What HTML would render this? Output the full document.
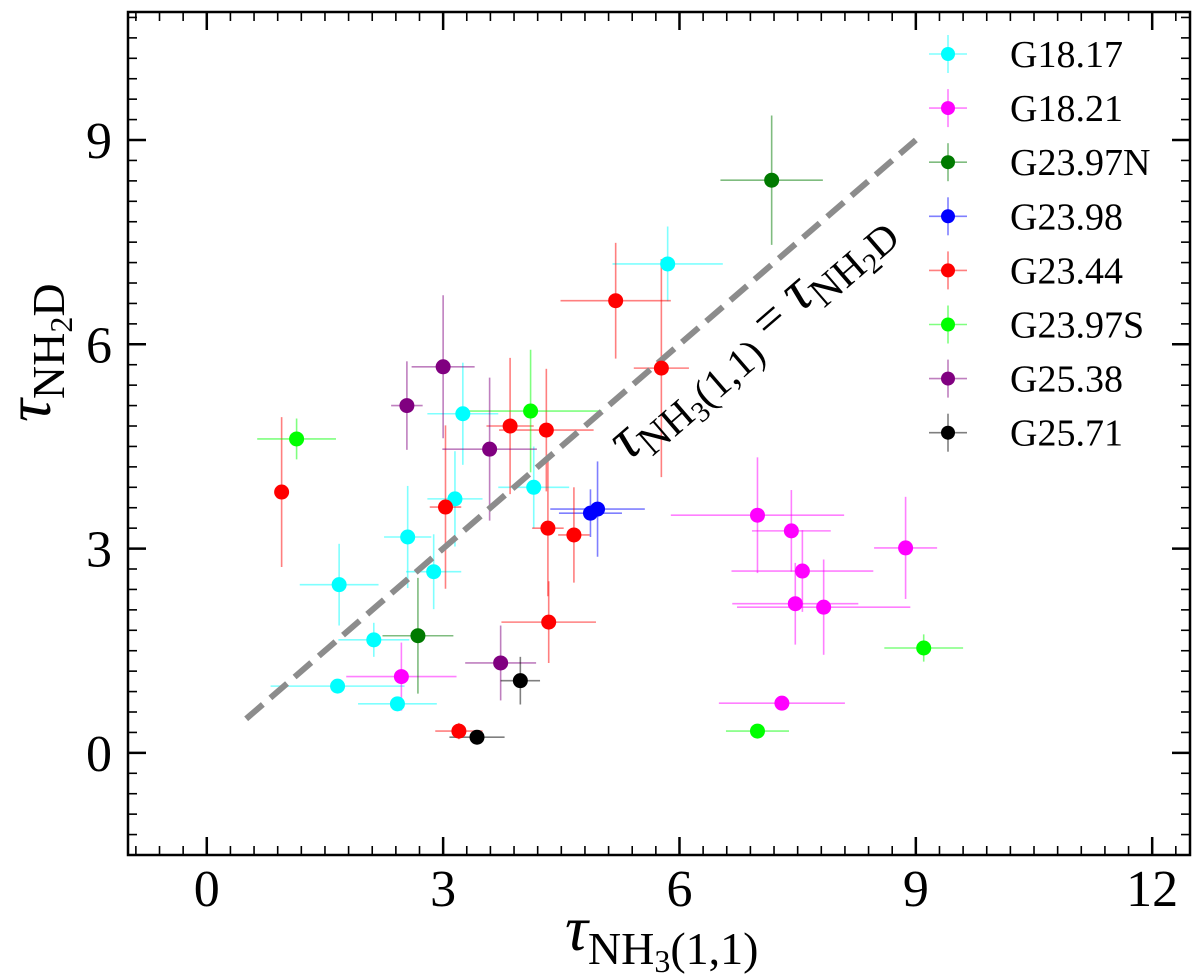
<!DOCTYPE html>
<html><head><meta charset="utf-8"><style>
html,body{margin:0;padding:0;background:#fff;}
svg{display:block;font-family:"Liberation Serif","DejaVu Serif",serif;}
</style></head><body>
<svg id="chart" width="1200" height="979" viewBox="0 0 1200 979" xmlns="http://www.w3.org/2000/svg">
<g id="marks"></g>
<g id="axes"></g>
<g id="legend"></g>
</svg>
<script>
const seriesNames = ["G18.17","G18.21","G23.97N","G23.98","G23.44","G23.97S","G25.38","G25.71"];
const seriesColors = ["#00ffff","#ff00ff","#007a00","#0000ff","#ff0000","#00ff00","#800080","#000000"];
const xG1817 = [1.68,2.12,1.66,2.42,2.55,2.88,3.15,3.25,4.15,5.85];
const yG1817 = [2.47,1.66,0.98,0.72,3.17,2.66,3.73,4.98,3.90,7.18];
const xeG1817 = [0.5,0.45,0.85,0.5,0.3,0.35,0.35,0.45,0.45,0.7];
const yeG1817 = [0.6,0.25,0.1,0.1,0.75,0.55,0.7,0.75,0.6,0.55];
const xG1821 = [2.47,6.99,7.42,7.56,7.47,7.83,8.87,7.30];
const yG1821 = [1.12,3.49,3.26,2.67,2.19,2.14,3.01,0.73];
const xeG1821 = [0.7,1.1,0.5,0.9,0.8,1.1,0.4,0.8];
const yeG1821 = [0.5,0.85,0.6,0.6,0.6,0.7,0.75,0.1];
const xG2397N = [7.17,2.68];
const yG2397N = [8.41,1.72];
const xeG2397N = [0.65,0.45];
const yeG2397N = [0.95,0.85];
const xG2398 = [4.87,4.96];
const yG2398 = [3.52,3.58];
const xeG2398 = [0.4,0.6];
const yeG2398 = [0.35,0.7];
const xG2344 = [0.95,3.03,3.85,4.31,4.33,4.66,4.34,5.19,5.77,3.20];
const yG2344 = [3.83,3.61,4.80,4.74,3.30,3.20,1.92,6.64,5.65,0.32];
const xeG2344 = [0.05,0.2,0.3,0.6,0.2,0.2,0.6,0.7,0.35,0.3];
const yeG2344 = [1.1,1.2,1.0,0.9,1.0,0.7,0.6,0.85,1.6,0.12];
const xG2397S = [1.14,4.11,9.10,6.99];
const yG2397S = [4.61,5.02,1.54,0.32];
const xeG2397S = [0.5,0.9,0.5,0.4];
const yeG2397S = [0.3,0.9,0.2,0.08];
const xG2538 = [3.00,2.54,3.59,3.73];
const yG2538 = [5.67,5.10,4.46,1.32];
const xeG2538 = [0.4,0.2,0.6,0.45];
const yeG2538 = [1.05,0.65,1.05,0.55];
const xG2571 = [3.43,3.98];
const yG2571 = [0.23,1.06];
const xeG2571 = [0.35,0.25];
const yeG2571 = [0.05,0.35];
const xTicks = [0,3,6,9,12];
const yTicks = [0,3,6,9];
const oneToOne = [0.5,9];

const allX=[xG1817,xG1821,xG2397N,xG2398,xG2344,xG2397S,xG2538,xG2571];
const allY=[yG1817,yG1821,yG2397N,yG2398,yG2344,yG2397S,yG2538,yG2571];
const allXe=[xeG1817,xeG1821,xeG2397N,xeG2398,xeG2344,xeG2397S,xeG2538,xeG2571];
const allYe=[yeG1817,yeG1821,yeG2397N,yeG2398,yeG2344,yeG2397S,yeG2538,yeG2571];

const L=128,R=1190,T=12,B=855;
const xmin=-1,xmax=12.48,ymin=-1.5,ymax=10.88;
const sx=v=>L+(v-xmin)/(xmax-xmin)*(R-L);
const sy=v=>B-(v-ymin)/(ymax-ymin)*(B-T);
const NS="http://www.w3.org/2000/svg";
function mk(tag,attrs,parent){const e=document.createElementNS(NS,tag);for(const k in attrs)e.setAttribute(k,attrs[k]);parent.appendChild(e);return e;}
const marks=document.getElementById('marks'),axes=document.getElementById('axes'),legend=document.getElementById('legend');

allX.forEach((xs,si)=>{
  const g=mk('g',{},marks);
  
  
  xs.forEach((x,i)=>{
    const y=allY[si][i],xe=allXe[si][i],ye=allYe[si][i];
    const h=mk('line',{x1:sx(x-xe),x2:sx(x+xe),y1:sy(y),y2:sy(y),stroke:seriesColors[si],'stroke-opacity':0.5,'stroke-width':1.6},g);
    
    
    const v=mk('line',{x1:sx(x),x2:sx(x),y1:sy(y-ye),y2:sy(y+ye),stroke:seriesColors[si],'stroke-opacity':0.5,'stroke-width':1.6},g);
    
    
  });
});
const dl=mk('line',{x1:sx(oneToOne[0]),y1:sy(oneToOne[0]),x2:sx(oneToOne[1]),y2:sy(oneToOne[1]),stroke:'#8c8c8c','stroke-width':6,'stroke-dasharray':'22,10'},marks);


allX.forEach((xs,si)=>{
  xs.forEach((x,i)=>{
    const c=mk('circle',{cx:sx(x),cy:sy(allY[si][i]),r:7.5,fill:seriesColors[si]},marks);
    
    
  });
});
const ang=Math.atan2(sy(9)-sy(0.5),sx(9)-sx(0.5))*180/Math.PI;
const lt=mk('text',{transform:`translate(628,462) rotate(${ang})`,'font-size':50,fill:'#000'},marks);


lt.innerHTML='<tspan font-style="italic" font-size="60">τ</tspan><tspan font-size="41" dy="12">NH</tspan><tspan font-size="29" dy="7">3</tspan><tspan font-size="41" dy="-7">(1,1)</tspan><tspan font-size="50" dy="-12"> = </tspan><tspan font-style="italic" font-size="60">τ</tspan><tspan font-size="41" dy="12">NH</tspan><tspan font-size="29" dy="7">2</tspan><tspan font-size="41" dy="-7">D</tspan>';

const fr=mk('rect',{x:L,y:T,width:R-L,height:B-T,fill:'none',stroke:'#000','stroke-width':2.5},axes);


for(let k=-3;k<=41;k++){const v=k*0.3;if(v<xmin||v>xmax)continue;const maj=Math.abs(v/3-Math.round(v/3))<1e-6;const len=maj?18:9;const x=sx(v);
  mk('line',{x1:x,x2:x,y1:B,y2:B-len,stroke:'#000','stroke-width':maj?2.5:1.6},axes);
  mk('line',{x1:x,x2:x,y1:T,y2:T+len,stroke:'#000','stroke-width':maj?2.5:1.6},axes);}
for(let k=-5;k<=36;k++){const v=k*0.3;if(v<ymin||v>ymax)continue;const maj=Math.abs(v/3-Math.round(v/3))<1e-6;const len=maj?18:9;const y=sy(v);
  mk('line',{x1:L,x2:L+len,y1:y,y2:y,stroke:'#000','stroke-width':maj?2.5:1.6},axes);
  mk('line',{x1:R,x2:R-len,y1:y,y2:y,stroke:'#000','stroke-width':maj?2.5:1.6},axes);}
xTicks.forEach(v=>{const t=mk('text',{x:sx(v),y:906,'text-anchor':'middle','font-size':52},axes);t.textContent=v;
  
  });
yTicks.forEach(v=>{const t=mk('text',{x:112,y:sy(v)+18,'text-anchor':'end','font-size':52},axes);t.textContent=v;
  
  });
const xt=mk('text',{x:565,y:950,'font-size':46},axes);


xt.innerHTML='<tspan font-style="italic" font-size="64">τ</tspan><tspan dy="14">NH</tspan><tspan font-size="32" dy="8">3</tspan><tspan dy="-8">(1,1)</tspan>';
const yt=mk('text',{transform:'translate(50,422) rotate(-90)','font-size':46},axes);


yt.innerHTML='<tspan font-style="italic" font-size="64">τ</tspan><tspan dy="14">NH</tspan><tspan font-size="32" dy="8">2</tspan><tspan dy="-8">D</tspan>';

seriesNames.forEach((n,i)=>{
  const y=54+i*54.1;
  const g=mk('g',{},legend);
  
  
  mk('line',{x1:929,x2:967,y1:y,y2:y,stroke:seriesColors[i],'stroke-opacity':0.5,'stroke-width':1.6},g);
  mk('line',{x1:948,x2:948,y1:y-19,y2:y+19,stroke:seriesColors[i],'stroke-opacity':0.5,'stroke-width':1.6},g);
  mk('circle',{cx:948,cy:y,r:7,fill:seriesColors[i]},g);
  const t=mk('text',{x:1010,y:y+13,'font-size':38},g);t.textContent=n;
});
</script>
</body></html>
